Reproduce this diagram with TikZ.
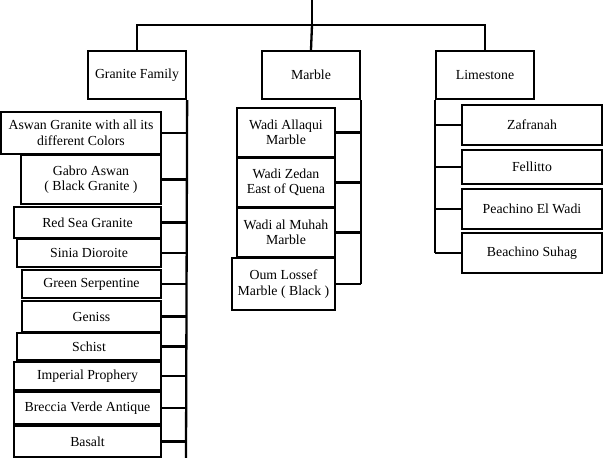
\documentclass[tikz,border=0pt]{standalone}
\usepackage{fontspec}
\setmainfont{Liberation Serif}

\begin{document}
\begin{tikzpicture}[x=1pt, y=-1pt,
  box/.style={draw, line width=2.3pt, inner sep=0pt, align=center, font=\fontsize{13.8}{15.5}\selectfont},
  link/.style={line width=2.3pt}]

% Fix the frame of the picture
\useasboundingbox (0,0) rectangle (603,458);

% Top level
\coordinate (top) at (312,0);
\coordinate (hub) at (312,25);
\node[box, minimum width=98, minimum height=48] (granite) at (137,75) {Granite Family};
\node[box, minimum width=98, minimum height=48] (marble) at (311,75) {Marble};
\node[box, minimum width=98, minimum height=48] (limestone) at (485,75) {Limestone};

% Draw the top connectors
\draw[link] (top) -- (hub);
\draw[link] (granite.north) -- (granite.north |- hub) -- (limestone.north |- hub) -- (limestone.north);
\draw[link] (hub) -- (marble.north);

% Granite family members
\node[box, minimum width=160, minimum height=42] (aswan) at (81,133) {Aswan Granite with all its\\different Colors};
\node[box, minimum width=140, minimum height=49] (gabro) at (91,179.5) {Gabro Aswan\\( Black Granite )};
\node[box, minimum width=147, minimum height=31] (redsea) at (87.5,222.5) {Red Sea Granite};
\node[box, minimum width=144, minimum height=28] (sinia) at (89,253) {Sinia Dioroite};
\node[box, minimum width=139, minimum height=28] (serpentine) at (91.5,284) {Green Serpentine};
\node[box, minimum width=139, minimum height=31] (geniss) at (91.5,316.5) {Geniss};
\node[box, minimum width=144, minimum height=27] (schist) at (89,346.5) {Schist};
\node[box, minimum width=147, minimum height=28] (imperial) at (87.5,376) {Imperial Prophery};
\node[box, minimum width=147, minimum height=32] (breccia) at (87.5,408) {Breccia Verde Antique};
\node[box, minimum width=147, minimum height=31] (basalt) at (87.5,441.5) {Basalt};

% Marble members
\node[box, minimum width=98, minimum height=49] (allaqui) at (286,132.5) {Wadi Allaqui\\Marble};
\node[box, minimum width=98, minimum height=49] (zedan) at (286,182.5) {Wadi Zedan\\East of Quena};
\node[box, minimum width=98, minimum height=49] (muhah) at (286,232.5) {Wadi al Muhah\\Marble};
\node[box, minimum width=103, minimum height=52] (lossef) at (283.5,284) {Oum Lossef\\Marble ( Black )};

% Limestone members
\node[box, minimum width=140, minimum height=40] (zafranah) at (532,125) {Zafranah};
\node[box, minimum width=140, minimum height=34] (fellitto) at (532,167) {Fellitto};
\node[box, minimum width=140, minimum height=40] (peachino) at (532,209) {Peachino El Wadi};
\node[box, minimum width=140, minimum height=40] (beachino) at (532,253) {Beachino Suhag};

% Rails down each column
\coordinate (granitebot) at (186,458);
\draw[link] (granite.south east) -- (granitebot);
\draw[link] (marble.south east) -- (lossef.east -| marble.south east);
\draw[link] (limestone.south west) -- (beachino.west -| limestone.south west);

% Branches from the rails
\foreach \n in {aswan,gabro,redsea,sinia,serpentine,geniss,schist,imperial,breccia,basalt}
  \draw[link] (\n.east) -- (\n.east -| granitebot);
\foreach \n in {allaqui,zedan,muhah,lossef}
  \draw[link] (\n.east) -- (\n.east -| marble.south east);
\foreach \n in {zafranah,fellitto,peachino,beachino}
  \draw[link] (\n.west) -- (\n.west -| limestone.south west);

\end{tikzpicture}
\end{document}
